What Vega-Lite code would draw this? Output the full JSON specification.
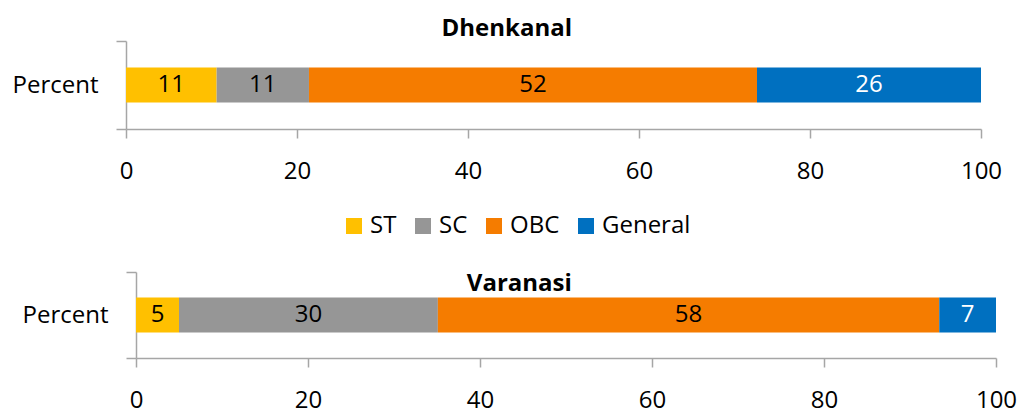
{
  "$schema": "https://vega.github.io/schema/vega-lite/v6.json",
  "padding": {"left": 12, "top": 17, "right": 2, "bottom": 0},
  "background": "white",
  "data": {"values": [
    {"panel": "Dhenkanal", "measure": "Percent", "category": "ST", "idx": 1, "value": 10.6, "label": 11},
    {"panel": "Dhenkanal", "measure": "Percent", "category": "SC", "idx": 2, "value": 10.8, "label": 11},
    {"panel": "Dhenkanal", "measure": "Percent", "category": "OBC", "idx": 3, "value": 52.4, "label": 52},
    {"panel": "Dhenkanal", "measure": "Percent", "category": "General", "idx": 4, "value": 26.2, "label": 26},
    {"panel": "Varanasi", "measure": "Percent", "category": "ST", "idx": 1, "value": 5.0, "label": 5},
    {"panel": "Varanasi", "measure": "Percent", "category": "SC", "idx": 2, "value": 30.1, "label": 30},
    {"panel": "Varanasi", "measure": "Percent", "category": "OBC", "idx": 3, "value": 58.3, "label": 58},
    {"panel": "Varanasi", "measure": "Percent", "category": "General", "idx": 4, "value": 6.6, "label": 7}
  ]},
  "config": {
    "view": {"stroke": null},
    "font": "Open Sans",
    "axis": {
      "labelFont": "Open Sans", "labelFontSize": 24, "labelColor": "black",
      "domainColor": "#a6a6a6", "tickColor": "#a6a6a6", "domainWidth": 1.5, "tickWidth": 1.5,
      "grid": false, "title": null, "labelOverlap": false
    },
    "legend": {
      "orient": "none", "legendX": 216, "legendY": 173, "direction": "horizontal",
      "title": null, "symbolType": "square", "symbolSize": 256, "symbolStrokeWidth": 0,
      "labelFontSize": 24, "labelFont": "Open Sans", "labelColor": "black",
      "columnPadding": 14, "labelOffset": 4, "symbolOpacity": 1
    }
  },
  "spacing": 77,
  "vconcat": [
    {
      "title": {"text": "Dhenkanal", "frame": "bounds", "anchor": "middle", "fontSize": 24, "fontWeight": "bold", "font": "Open Sans", "baseline": "alphabetic", "offset": -31, "color": "black"},
      "width": 855, "height": 88,
      "transform": [{"filter": "datum.panel === 'Dhenkanal'"}],
      "encoding": {
        "y": {"field": "measure", "type": "nominal", "scale": {"paddingInner": 0, "paddingOuter": 0},
              "axis": {"tickBand": "extent", "tickSize": 10, "labelPadding": 18}}
      },
      "layer": [
        {
          "mark": {"type": "bar", "size": 35},
          "encoding": {
            "x": {"field": "value", "type": "quantitative", "stack": "zero",
                  "scale": {"domain": [0, 100], "nice": false},
                  "axis": {"values": [0, 20, 40, 60, 80, 100], "tickSize": 9, "labelPadding": 21, "labelFlush": false}},
            "color": {"field": "category", "type": "nominal", "sort": ["ST", "SC", "OBC", "General"],
                      "scale": {"domain": ["ST", "SC", "OBC", "General"], "range": ["#FFC000", "#969696", "#F57C00", "#0070C0"]}},
            "order": {"field": "idx", "type": "quantitative"}
          }
        },
        {
          "mark": {"type": "text", "fontSize": 24, "font": "Open Sans", "baseline": "middle"},
          "encoding": {
            "x": {"field": "value", "type": "quantitative", "stack": "zero", "bandPosition": 0.5},
            "detail": {"field": "category"},
            "order": {"field": "idx", "type": "quantitative"},
            "text": {"field": "label"},
            "color": {"condition": {"test": "datum.category === 'General'", "value": "white"}, "value": "black"}
          }
        }
      ]
    },
    {
      "title": {"text": "Varanasi", "frame": "bounds", "anchor": "middle", "fontSize": 24, "fontWeight": "bold", "font": "Open Sans", "baseline": "alphabetic", "offset": -55, "color": "black"},
      "width": 870, "height": 86,
      "transform": [{"filter": "datum.panel === 'Varanasi'"}],
      "encoding": {
        "y": {"field": "measure", "type": "nominal", "scale": {"paddingInner": 0, "paddingOuter": 0},
              "axis": {"tickBand": "extent", "tickSize": 10, "labelPadding": 18, "offset": -10}}
      },
      "layer": [
        {
          "mark": {"type": "bar", "size": 35},
          "encoding": {
            "x": {"field": "value", "type": "quantitative", "stack": "zero",
                  "scale": {"domain": [0, 100], "nice": false, "range": [10, 870]},
                  "axis": {"values": [0, 20, 40, 60, 80, 100], "tickSize": 9, "labelPadding": 21, "labelFlush": false}},
            "color": {"field": "category", "type": "nominal", "sort": ["ST", "SC", "OBC", "General"],
                      "scale": {"domain": ["ST", "SC", "OBC", "General"], "range": ["#FFC000", "#969696", "#F57C00", "#0070C0"]}},
            "order": {"field": "idx", "type": "quantitative"}
          }
        },
        {
          "mark": {"type": "text", "fontSize": 24, "font": "Open Sans", "baseline": "middle"},
          "encoding": {
            "x": {"field": "value", "type": "quantitative", "stack": "zero", "bandPosition": 0.5},
            "detail": {"field": "category"},
            "order": {"field": "idx", "type": "quantitative"},
            "text": {"field": "label"},
            "color": {"condition": {"test": "datum.category === 'General'", "value": "white"}, "value": "black"}
          }
        }
      ]
    }
  ],
  "resolve": {"scale": {"x": "independent"}}
}
